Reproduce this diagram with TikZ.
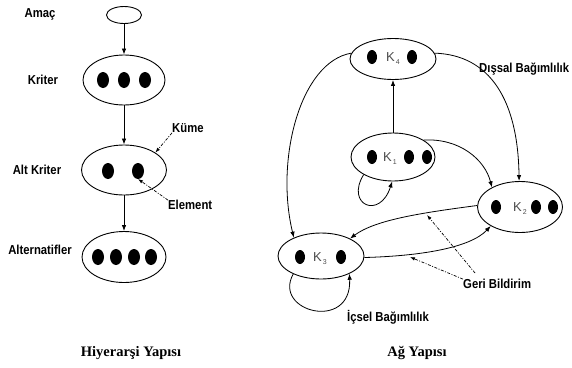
\documentclass[tikz,border=0pt]{standalone}
\usepackage{fontspec}
\setmainfont{Liberation Serif}
\setsansfont{Liberation Sans}
\newfontfamily\narrowsans{Liberation Sans}[FakeStretch=0.87]
\usetikzlibrary{shapes.geometric,arrows.meta}
\begin{document}
\begin{tikzpicture}[x=1pt,y=-1pt,
 ell/.style={draw, ellipse, inner sep=0pt, line width=0.9pt},
 lab/.style={font=\narrowsans\bfseries\fontsize{13}{15}\selectfont, inner sep=0pt, text height=9.3pt, text depth=0pt},
 captext/.style={font=\rmfamily\bfseries\fontsize{14.5}{16}\selectfont, inner sep=0pt, text height=9.7pt, text depth=0pt},
 arr/.style={-{Latex[length=6pt,width=4.5pt]}, line width=0.8pt},
 dd/.style={-{Latex[length=5pt,width=3.5pt]}, line width=0.7pt, dash pattern=on 3pt off 1.5pt on 1pt off 1.5pt},
 klab/.style={font=\sffamily\fontsize{13}{15}\selectfont, text=black!70, inner sep=0pt, text height=9.3pt, text depth=0pt},
 bigdot/.style={fill=black},
]
\useasboundingbox (0,0) rectangle (572,367);
\newcommand{\ksub}[1]{K\raisebox{-2.5pt}{\fontsize{7}{8}\selectfont\,#1}}

% ---------- Hierarchy ----------
\node[ell, minimum width=35pt, minimum height=17pt] (goal) at (124,15) {};
\node[ell, minimum width=82pt, minimum height=50pt] (crit) at (124,80) {};
\node[ell, minimum width=85pt, minimum height=50pt] (sub) at (124,170) {};
\node[ell, minimum width=84pt, minimum height=51pt] (alt) at (124,257) {};

\foreach \x in {103,124,145} \fill[bigdot] (\x,80) ellipse (6 and 8);
\foreach \x in {108,138} \fill[bigdot] (\x,171) ellipse (6 and 8);
\foreach \x in {98,116,134,151} \fill[bigdot] (\x,257) ellipse (6 and 8);

\draw[arr] (goal) -- (crit);
\draw[arr] (crit) -- (sub);
\draw[arr] (sub) -- (alt);

\node[lab] (lgoal) at (40,13) {Amaç};
\node[lab] (lcrit) at (43,80) {Kriter};
\node[lab] (lsub) at (37,170) {Alt Kriter};
\node[lab] (lalt) at (40,250) {Alternatifler};

\node[lab, anchor=west] (kume) at (172,128) {Küme};
\node[lab, anchor=west] (elem) at (168,205) {Element};
\coordinate (dotB) at (138,179);
\draw[dd] (kume.south west) -- (sub.29);
\draw[dd] (elem.north west) -- (dotB);

\node[captext] (cap1) at (131,352) {Hiyerarşi Yapısı};

% ---------- Network ----------
\node[ell, minimum width=86pt, minimum height=41pt] (k4) at (393,59) {};
\node[ell, minimum width=84pt, minimum height=48pt] (k1) at (393,157) {};
\node[ell, minimum width=85pt, minimum height=51pt] (k2) at (520,207) {};
\node[ell, minimum width=86pt, minimum height=46pt] (k3) at (321,256) {};

\foreach \x in {372,412} \fill[bigdot] (\x,57) ellipse (5 and 7);
\node[klab] (k4lab) at (393,57) {\ksub{4}};
\fill[bigdot] (372,157) ellipse (5 and 7);
\foreach \x in {409,427} \fill[bigdot] (\x,157) ellipse (5 and 7);
\node[klab] (k1lab) at (390,157) {\ksub{1}};
\fill[bigdot] (496,207) ellipse (5 and 7);
\foreach \x in {536,553} \fill[bigdot] (\x,207) ellipse (5 and 7);
\node[klab] (k2lab) at (520,207) {\ksub{2}};
\foreach \x in {300,341} \fill[bigdot] (\x,257) ellipse (5 and 7);
\node[klab] (k3lab) at (320,257) {\ksub{3}};

\draw[arr] (k1) -- (k4);
\draw[arr] (k4.172) .. controls (300,62) and (275,160) .. (k3.146);
\draw[arr] (k4.8) .. controls (490,55) and (518,100) .. (k2.92);
\draw[arr] (k1.29) .. controls (460,138) and (485,160) .. (k2.145);
\draw[arr] (k1.211) .. controls (345,205) and (380,220) .. (k1.268);
\draw[arr] (k2.178) .. controls (420,213) and (375,220) .. (k3.31);
\draw[arr] (k3.358) .. controls (420,256) and (470,248) .. (k2.213);
\draw[arr] (k3.213) .. controls (272,312) and (352,332) .. (k3.328);

\node[lab, anchor=west] (dissal) at (479,68) {Dışsal Bağımlılık};
\node[lab, anchor=west] (geri) at (463,284) {Geri Bildirim};
\node[lab, anchor=west] (icsel) at (347,317) {İçsel Bağımlılık};

\coordinate (fb1) at (427,215);
\coordinate (fb2) at (410,257);
\coordinate (g1) at (475,273);
\draw[dd] (g1) -- (fb1);
\draw[dd] (geri.north west) -- (fb2);

\node[captext] (cap2) at (417,352) {Ağ Yapısı};
\end{tikzpicture}
\end{document}
